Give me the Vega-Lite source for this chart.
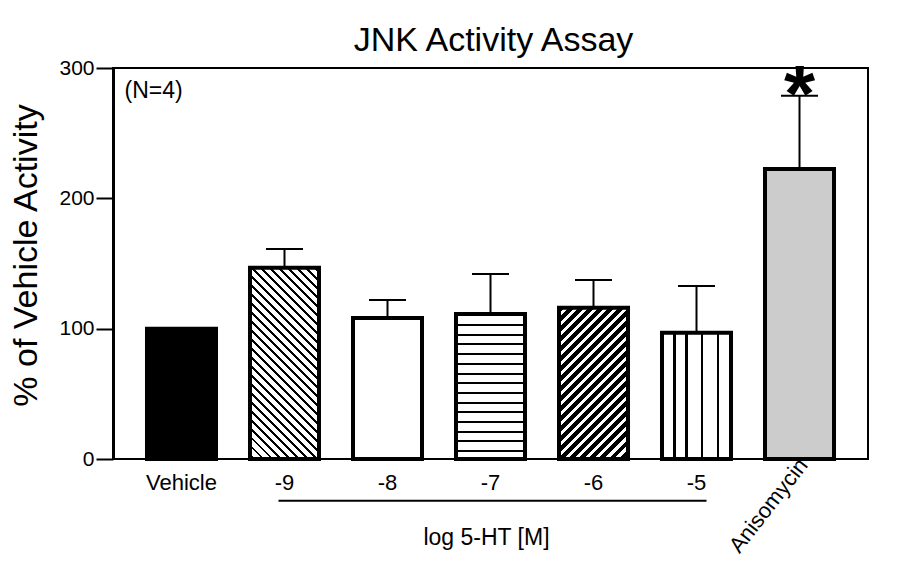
{
  "$schema": "https://vega.github.io/schema/vega-lite/v6.json",
  "width": 755,
  "height": 391,
  "autosize": {"type": "none"},
  "padding": {"left": 113, "top": 68, "right": 36, "bottom": 122},
  "background": "white",
  "config": {"font": "Liberation Sans", "view": {"stroke": "black", "strokeWidth": 2}},
  "title": {"text": "JNK Activity Assay", "fontSize": 34, "fontWeight": "normal", "color": "black", "anchor": "middle", "frame": "group", "baseline": "alphabetic", "offset": 15, "dx": 3, "dy": 43},
  "data": {"values": [
    {"cat": "Vehicle", "mean": 100, "err": null},
    {"cat": "-9", "mean": 146.8, "err": 161.1},
    {"cat": "-8", "mean": 108.2, "err": 122.0},
    {"cat": "-7", "mean": 111.3, "err": 141.9},
    {"cat": "-6", "mean": 116.1, "err": 137.3},
    {"cat": "-5", "mean": 96.9, "err": 132.7},
    {"cat": "Anisomycin", "mean": 222.5, "err": 278.8}
  ]},
  "encoding": {
    "x": {
      "field": "cat", "type": "nominal",
      "scale": {"domain": ["Vehicle", "-9", "-8", "-7", "-6", "-5", "Anisomycin"], "paddingInner": 0.33, "paddingOuter": 0.33},
      "axis": {
        "title": "log 5-HT [M]", "titleFontSize": 23, "titleFontWeight": "normal", "titleColor": "black",
        "titleX": 373, "titleY": 78, "titleBaseline": "middle",
        "labelFontSize": 22, "labelColor": "black", "labelPadding": 13, "ticks": false, "domain": false,
        "labelAngle": 0, "labelOverlap": false, "labelFlush": false,
        "labelExpr": "datum.value === 'Anisomycin' ? '' : datum.value"
      }
    },
    "y": {
      "field": "mean", "type": "quantitative",
      "scale": {"domain": [0, 300], "nice": false},
      "axis": {
        "values": [0, 100, 200, 300], "title": "% of Vehicle Activity", "grid": false,
        "domainColor": "black", "domainWidth": 3, "tickColor": "black", "tickWidth": 2, "tickSize": 17,
        "labelFontSize": 21, "labelColor": "black", "labelPadding": 2, "labelFlush": false,
        "titleFontSize": 34, "titleFontWeight": "normal", "titleColor": "black",
        "titleX": -70, "titleY": 187, "titleBaseline": "bottom", "titleAngle": -90, "titleAlign": "center"
      }
    }
  },
  "layer": [
    {
      "transform": [{"filter": {"field": "err", "valid": true}}],
      "mark": {"type": "rule", "color": "black", "strokeWidth": 2},
      "encoding": {"y2": {"field": "err"}}
    },
    {
      "transform": [{"filter": {"field": "err", "valid": true}}],
      "mark": {"type": "tick", "orient": "horizontal", "size": 37, "thickness": 2, "color": "black", "opacity": 1},
      "encoding": {"y": {"field": "err", "type": "quantitative"}}
    },
    {
      "transform": [{"filter": {"field": "cat", "oneOf": ["Vehicle", "-8", "Anisomycin"]}}],
      "mark": {"type": "bar", "stroke": "black", "strokeWidth": 4},
      "encoding": {"fill": {"field": "cat", "type": "nominal", "scale": {"domain": ["Vehicle", "-8", "Anisomycin"], "range": ["#000000", "#ffffff", "#cccccc"]}, "legend": null}}
    },
    {
      "transform": [{"filter": "datum.cat === '-9'"}],
      "mark": {"type": "bar", "stroke": "black", "strokeWidth": 4, "fill": {
        "gradient": "linear", "x1": 0, "y1": 1, "x2": 0.4342, "y2": -0.204,
        "stops": [
          {"offset": 0, "color": "#fff"},
          {"offset": 0.0117, "color": "#fff"}, {"offset": 0.0117, "color": "#000"}, {"offset": 0.0227, "color": "#000"}, {"offset": 0.0227, "color": "#fff"},
          {"offset": 0.0462, "color": "#fff"}, {"offset": 0.0462, "color": "#000"}, {"offset": 0.0572, "color": "#000"}, {"offset": 0.0572, "color": "#fff"},
          {"offset": 0.0807, "color": "#fff"}, {"offset": 0.0807, "color": "#000"}, {"offset": 0.0917, "color": "#000"}, {"offset": 0.0917, "color": "#fff"},
          {"offset": 0.1152, "color": "#fff"}, {"offset": 0.1152, "color": "#000"}, {"offset": 0.1262, "color": "#000"}, {"offset": 0.1262, "color": "#fff"},
          {"offset": 0.1497, "color": "#fff"}, {"offset": 0.1497, "color": "#000"}, {"offset": 0.1607, "color": "#000"}, {"offset": 0.1607, "color": "#fff"},
          {"offset": 0.1842, "color": "#fff"}, {"offset": 0.1842, "color": "#000"}, {"offset": 0.1952, "color": "#000"}, {"offset": 0.1952, "color": "#fff"},
          {"offset": 0.2186, "color": "#fff"}, {"offset": 0.2186, "color": "#000"}, {"offset": 0.2296, "color": "#000"}, {"offset": 0.2296, "color": "#fff"},
          {"offset": 0.2531, "color": "#fff"}, {"offset": 0.2531, "color": "#000"}, {"offset": 0.2641, "color": "#000"}, {"offset": 0.2641, "color": "#fff"},
          {"offset": 0.2876, "color": "#fff"}, {"offset": 0.2876, "color": "#000"}, {"offset": 0.2986, "color": "#000"}, {"offset": 0.2986, "color": "#fff"},
          {"offset": 0.3221, "color": "#fff"}, {"offset": 0.3221, "color": "#000"}, {"offset": 0.3331, "color": "#000"}, {"offset": 0.3331, "color": "#fff"},
          {"offset": 0.3566, "color": "#fff"}, {"offset": 0.3566, "color": "#000"}, {"offset": 0.3676, "color": "#000"}, {"offset": 0.3676, "color": "#fff"},
          {"offset": 0.3911, "color": "#fff"}, {"offset": 0.3911, "color": "#000"}, {"offset": 0.4021, "color": "#000"}, {"offset": 0.4021, "color": "#fff"},
          {"offset": 0.4255, "color": "#fff"}, {"offset": 0.4255, "color": "#000"}, {"offset": 0.4365, "color": "#000"}, {"offset": 0.4365, "color": "#fff"},
          {"offset": 0.4600, "color": "#fff"}, {"offset": 0.4600, "color": "#000"}, {"offset": 0.4710, "color": "#000"}, {"offset": 0.4710, "color": "#fff"},
          {"offset": 0.4945, "color": "#fff"}, {"offset": 0.4945, "color": "#000"}, {"offset": 0.5055, "color": "#000"}, {"offset": 0.5055, "color": "#fff"},
          {"offset": 0.5290, "color": "#fff"}, {"offset": 0.5290, "color": "#000"}, {"offset": 0.5400, "color": "#000"}, {"offset": 0.5400, "color": "#fff"},
          {"offset": 0.5635, "color": "#fff"}, {"offset": 0.5635, "color": "#000"}, {"offset": 0.5745, "color": "#000"}, {"offset": 0.5745, "color": "#fff"},
          {"offset": 0.5980, "color": "#fff"}, {"offset": 0.5980, "color": "#000"}, {"offset": 0.6090, "color": "#000"}, {"offset": 0.6090, "color": "#fff"},
          {"offset": 0.6324, "color": "#fff"}, {"offset": 0.6324, "color": "#000"}, {"offset": 0.6434, "color": "#000"}, {"offset": 0.6434, "color": "#fff"},
          {"offset": 0.6669, "color": "#fff"}, {"offset": 0.6669, "color": "#000"}, {"offset": 0.6779, "color": "#000"}, {"offset": 0.6779, "color": "#fff"},
          {"offset": 0.7014, "color": "#fff"}, {"offset": 0.7014, "color": "#000"}, {"offset": 0.7124, "color": "#000"}, {"offset": 0.7124, "color": "#fff"},
          {"offset": 0.7359, "color": "#fff"}, {"offset": 0.7359, "color": "#000"}, {"offset": 0.7469, "color": "#000"}, {"offset": 0.7469, "color": "#fff"},
          {"offset": 0.7704, "color": "#fff"}, {"offset": 0.7704, "color": "#000"}, {"offset": 0.7814, "color": "#000"}, {"offset": 0.7814, "color": "#fff"},
          {"offset": 0.8048, "color": "#fff"}, {"offset": 0.8048, "color": "#000"}, {"offset": 0.8158, "color": "#000"}, {"offset": 0.8158, "color": "#fff"},
          {"offset": 0.8393, "color": "#fff"}, {"offset": 0.8393, "color": "#000"}, {"offset": 0.8503, "color": "#000"}, {"offset": 0.8503, "color": "#fff"},
          {"offset": 0.8738, "color": "#fff"}, {"offset": 0.8738, "color": "#000"}, {"offset": 0.8848, "color": "#000"}, {"offset": 0.8848, "color": "#fff"},
          {"offset": 0.9083, "color": "#fff"}, {"offset": 0.9083, "color": "#000"}, {"offset": 0.9193, "color": "#000"}, {"offset": 0.9193, "color": "#fff"},
          {"offset": 0.9428, "color": "#fff"}, {"offset": 0.9428, "color": "#000"}, {"offset": 0.9538, "color": "#000"}, {"offset": 0.9538, "color": "#fff"},
          {"offset": 0.9773, "color": "#fff"}, {"offset": 0.9773, "color": "#000"}, {"offset": 0.9883, "color": "#000"}, {"offset": 0.9883, "color": "#fff"},
          {"offset": 1, "color": "#fff"}
        ]
      }}
    },
    {
      "transform": [{"filter": "datum.cat === '-7'"}],
      "mark": {"type": "bar", "stroke": "black", "strokeWidth": 4, "fill": {
        "gradient": "linear", "x1": 0, "y1": 0, "x2": 0, "y2": 1,
        "stops": [
          {"offset": 0, "color": "#fff"},
          {"offset": 0.069, "color": "#fff"}, {"offset": 0.069, "color": "#000"}, {"offset": 0.083, "color": "#000"}, {"offset": 0.083, "color": "#fff"},
          {"offset": 0.136, "color": "#fff"}, {"offset": 0.136, "color": "#000"}, {"offset": 0.150, "color": "#000"}, {"offset": 0.150, "color": "#fff"},
          {"offset": 0.203, "color": "#fff"}, {"offset": 0.203, "color": "#000"}, {"offset": 0.217, "color": "#000"}, {"offset": 0.217, "color": "#fff"},
          {"offset": 0.270, "color": "#fff"}, {"offset": 0.270, "color": "#000"}, {"offset": 0.284, "color": "#000"}, {"offset": 0.284, "color": "#fff"},
          {"offset": 0.337, "color": "#fff"}, {"offset": 0.337, "color": "#000"}, {"offset": 0.351, "color": "#000"}, {"offset": 0.351, "color": "#fff"},
          {"offset": 0.404, "color": "#fff"}, {"offset": 0.404, "color": "#000"}, {"offset": 0.418, "color": "#000"}, {"offset": 0.418, "color": "#fff"},
          {"offset": 0.470, "color": "#fff"}, {"offset": 0.470, "color": "#000"}, {"offset": 0.484, "color": "#000"}, {"offset": 0.484, "color": "#fff"},
          {"offset": 0.537, "color": "#fff"}, {"offset": 0.537, "color": "#000"}, {"offset": 0.551, "color": "#000"}, {"offset": 0.551, "color": "#fff"},
          {"offset": 0.604, "color": "#fff"}, {"offset": 0.604, "color": "#000"}, {"offset": 0.618, "color": "#000"}, {"offset": 0.618, "color": "#fff"},
          {"offset": 0.671, "color": "#fff"}, {"offset": 0.671, "color": "#000"}, {"offset": 0.685, "color": "#000"}, {"offset": 0.685, "color": "#fff"},
          {"offset": 0.738, "color": "#fff"}, {"offset": 0.738, "color": "#000"}, {"offset": 0.752, "color": "#000"}, {"offset": 0.752, "color": "#fff"},
          {"offset": 0.805, "color": "#fff"}, {"offset": 0.805, "color": "#000"}, {"offset": 0.819, "color": "#000"}, {"offset": 0.819, "color": "#fff"},
          {"offset": 0.872, "color": "#fff"}, {"offset": 0.872, "color": "#000"}, {"offset": 0.886, "color": "#000"}, {"offset": 0.886, "color": "#fff"},
          {"offset": 0.939, "color": "#fff"}, {"offset": 0.939, "color": "#000"}, {"offset": 0.953, "color": "#000"}, {"offset": 0.953, "color": "#fff"},
          {"offset": 1, "color": "#fff"}
        ]
      }}
    },
    {
      "transform": [{"filter": "datum.cat === '-6'"}],
      "mark": {"type": "bar", "stroke": "black", "strokeWidth": 4, "fill": {
        "gradient": "linear", "x1": 0, "y1": 0, "x2": 0.5497, "y2": 1.2055,
        "stops": [
          {"offset": 0, "color": "#000"}, {"offset": 0.025, "color": "#000"}, {"offset": 0.025, "color": "#fff"},
          {"offset": 0.0455, "color": "#fff"}, {"offset": 0.0455, "color": "#000"}, {"offset": 0.0705, "color": "#000"}, {"offset": 0.0705, "color": "#fff"},
          {"offset": 0.0909, "color": "#fff"}, {"offset": 0.0909, "color": "#000"}, {"offset": 0.1159, "color": "#000"}, {"offset": 0.1159, "color": "#fff"},
          {"offset": 0.1364, "color": "#fff"}, {"offset": 0.1364, "color": "#000"}, {"offset": 0.1614, "color": "#000"}, {"offset": 0.1614, "color": "#fff"},
          {"offset": 0.1818, "color": "#fff"}, {"offset": 0.1818, "color": "#000"}, {"offset": 0.2068, "color": "#000"}, {"offset": 0.2068, "color": "#fff"},
          {"offset": 0.2273, "color": "#fff"}, {"offset": 0.2273, "color": "#000"}, {"offset": 0.2523, "color": "#000"}, {"offset": 0.2523, "color": "#fff"},
          {"offset": 0.2727, "color": "#fff"}, {"offset": 0.2727, "color": "#000"}, {"offset": 0.2977, "color": "#000"}, {"offset": 0.2977, "color": "#fff"},
          {"offset": 0.3182, "color": "#fff"}, {"offset": 0.3182, "color": "#000"}, {"offset": 0.3432, "color": "#000"}, {"offset": 0.3432, "color": "#fff"},
          {"offset": 0.3636, "color": "#fff"}, {"offset": 0.3636, "color": "#000"}, {"offset": 0.3886, "color": "#000"}, {"offset": 0.3886, "color": "#fff"},
          {"offset": 0.4091, "color": "#fff"}, {"offset": 0.4091, "color": "#000"}, {"offset": 0.4341, "color": "#000"}, {"offset": 0.4341, "color": "#fff"},
          {"offset": 0.4545, "color": "#fff"}, {"offset": 0.4545, "color": "#000"}, {"offset": 0.4795, "color": "#000"}, {"offset": 0.4795, "color": "#fff"},
          {"offset": 0.5, "color": "#fff"}, {"offset": 0.5, "color": "#000"}, {"offset": 0.525, "color": "#000"}, {"offset": 0.525, "color": "#fff"},
          {"offset": 0.5455, "color": "#fff"}, {"offset": 0.5455, "color": "#000"}, {"offset": 0.5705, "color": "#000"}, {"offset": 0.5705, "color": "#fff"},
          {"offset": 0.5909, "color": "#fff"}, {"offset": 0.5909, "color": "#000"}, {"offset": 0.6159, "color": "#000"}, {"offset": 0.6159, "color": "#fff"},
          {"offset": 0.6364, "color": "#fff"}, {"offset": 0.6364, "color": "#000"}, {"offset": 0.6614, "color": "#000"}, {"offset": 0.6614, "color": "#fff"},
          {"offset": 0.6818, "color": "#fff"}, {"offset": 0.6818, "color": "#000"}, {"offset": 0.7068, "color": "#000"}, {"offset": 0.7068, "color": "#fff"},
          {"offset": 0.7273, "color": "#fff"}, {"offset": 0.7273, "color": "#000"}, {"offset": 0.7523, "color": "#000"}, {"offset": 0.7523, "color": "#fff"},
          {"offset": 0.7727, "color": "#fff"}, {"offset": 0.7727, "color": "#000"}, {"offset": 0.7977, "color": "#000"}, {"offset": 0.7977, "color": "#fff"},
          {"offset": 0.8182, "color": "#fff"}, {"offset": 0.8182, "color": "#000"}, {"offset": 0.8432, "color": "#000"}, {"offset": 0.8432, "color": "#fff"},
          {"offset": 0.8636, "color": "#fff"}, {"offset": 0.8636, "color": "#000"}, {"offset": 0.8886, "color": "#000"}, {"offset": 0.8886, "color": "#fff"},
          {"offset": 0.9091, "color": "#fff"}, {"offset": 0.9091, "color": "#000"}, {"offset": 0.9341, "color": "#000"}, {"offset": 0.9341, "color": "#fff"},
          {"offset": 0.9545, "color": "#fff"}, {"offset": 0.9545, "color": "#000"}, {"offset": 0.9795, "color": "#000"}, {"offset": 0.9795, "color": "#fff"},
          {"offset": 1, "color": "#fff"}
        ]
      }}
    },
    {
      "transform": [{"filter": "datum.cat === '-5'"}],
      "mark": {"type": "bar", "stroke": "black", "strokeWidth": 4, "fill": {
        "gradient": "linear", "x1": 0, "y1": 0, "x2": 1, "y2": 0,
        "stops": [
          {"offset": 0, "color": "#fff"},
          {"offset": 0.16, "color": "#fff"}, {"offset": 0.16, "color": "#000"}, {"offset": 0.20, "color": "#000"}, {"offset": 0.20, "color": "#fff"},
          {"offset": 0.34, "color": "#fff"}, {"offset": 0.34, "color": "#000"}, {"offset": 0.38, "color": "#000"}, {"offset": 0.38, "color": "#fff"},
          {"offset": 0.56, "color": "#fff"}, {"offset": 0.56, "color": "#000"}, {"offset": 0.60, "color": "#000"}, {"offset": 0.60, "color": "#fff"},
          {"offset": 0.79, "color": "#fff"}, {"offset": 0.79, "color": "#000"}, {"offset": 0.83, "color": "#000"}, {"offset": 0.83, "color": "#fff"},
          {"offset": 1, "color": "#fff"}
        ]
      }}
    },
    {
      "transform": [{"filter": "datum.cat === '-9'"}],
      "mark": {"type": "rule", "color": "black", "strokeWidth": 2, "xOffset": -6, "x2Offset": 10},
      "encoding": {
        "x": {"datum": "-9", "type": "nominal"},
        "x2": {"datum": "-5"},
        "y": {"datum": -32, "type": "quantitative"}
      }
    },
    {
      "transform": [{"filter": "datum.cat === 'Vehicle'"}],
      "mark": {"type": "text", "text": "(N=4)", "align": "left", "baseline": "middle", "dx": -57, "fontSize": 23, "color": "black"},
      "encoding": {
        "y": {"datum": 282.6, "type": "quantitative"}
      }
    },
    {
      "transform": [{"filter": "datum.cat === 'Anisomycin'"}],
      "mark": {"type": "text", "text": "*", "align": "center", "baseline": "alphabetic", "dy": 25, "fontSize": 80, "fontWeight": "bold", "color": "black"},
      "encoding": {
        "y": {"field": "err", "type": "quantitative"}
      }
    },
    {
      "transform": [{"filter": "datum.cat === 'Anisomycin'"}],
      "mark": {"type": "text", "angle": 308, "align": "right", "baseline": "middle", "dx": 6, "fontSize": 22, "color": "black"},
      "encoding": {
        "text": {"field": "cat"},
        "y": {"datum": -5.4, "type": "quantitative"}
      }
    }
  ]
}
